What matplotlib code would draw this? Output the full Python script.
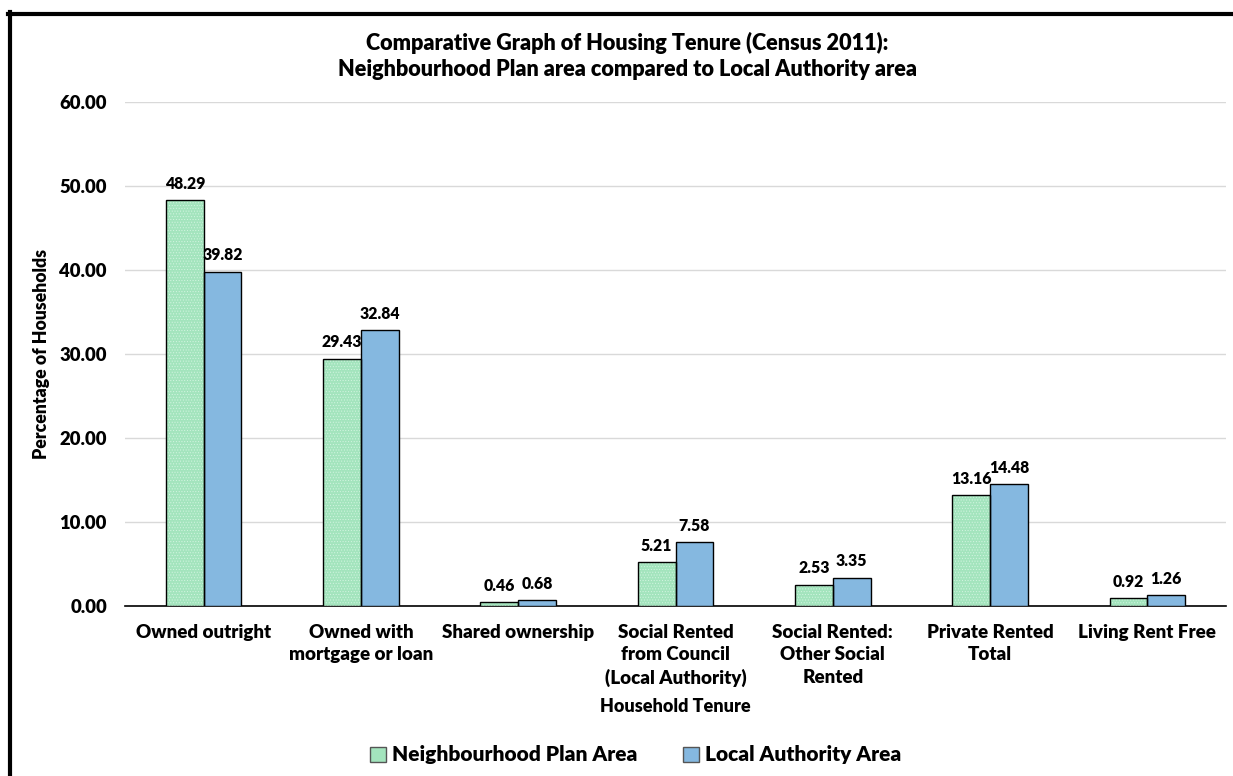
import matplotlib
matplotlib.use("Agg")
import matplotlib.pyplot as plt
import numpy as np
from matplotlib.lines import Line2D
from matplotlib.patches import Patch

categories = ["Owned outright", "Owned with\nmortgage or loan", "Shared ownership",
              "Social Rented\nfrom Council\n(Local Authority)", "Social Rented:\nOther Social\nRented",
              "Private Rented\nTotal", "Living Rent Free"]
neighbourhood = [48.29, 29.43, 0.46, 5.21, 2.53, 13.16, 0.92]
local_authority = [39.82, 32.84, 0.68, 7.58, 3.35, 14.48, 1.26]
yticks = [0, 10, 20, 30, 40, 50, 60]

plt.rcParams['font.family'] = ['Lato', 'DejaVu Sans']
plt.rcParams['hatch.color'] = '#d4f5e2'
plt.rcParams['hatch.linewidth'] = 0.4
WT = 'heavy'

W, H = 1233, 776
fig = plt.figure(figsize=(W/100, H/100), dpi=100)
ax = fig.add_axes([125/W, 1-606/H, (1226-125)/W, (606-102)/H])

x = np.arange(len(categories))
bw = 0.24
green = '#a3e4bd'
blue = '#85b8e0'
ax.bar(x - bw/2, neighbourhood, bw, color=green, edgecolor='#d4f5e2', linewidth=0,
       hatch='......', zorder=3)
ax.bar(x - bw/2, neighbourhood, bw, color='none', edgecolor='black', linewidth=1.0, zorder=4)
ax.bar(x + bw/2, local_authority, bw, color=blue, edgecolor='black', linewidth=1.0, zorder=3)

for xi, v in zip(x, neighbourhood):
    ax.text(xi - bw/2, v + 1.0, f"{v:.2f}", ha='center', va='bottom', fontsize=11.3, fontweight=WT)
for xi, v in zip(x, local_authority):
    ax.text(xi + bw/2, v + 1.0, f"{v:.2f}", ha='center', va='bottom', fontsize=11.3, fontweight=WT)

ax.set_xlim(-0.5, len(categories) - 0.5)
ax.set_ylim(0, 60)
ax.set_yticks(yticks)
ax.set_yticklabels([f"{t:.2f}" for t in yticks], fontsize=13.3, fontweight=WT)
ax.set_xticks(x)
ax.set_xticklabels(categories, fontsize=13.5, fontweight=WT, linespacing=1.38)
ax.tick_params(axis='both', length=0)
ax.tick_params(axis='x', pad=13)
ax.tick_params(axis='y', pad=13)
ax.grid(axis='y', color='#d9d9d9', linewidth=1, zorder=0)
for s in ['top', 'right', 'left']:
    ax.spines[s].set_visible(False)
ax.spines['bottom'].set_color('black')
ax.spines['bottom'].set_linewidth(1.2)

fig.text(42/W, 1 - 354/H, "Percentage of Households", rotation=90, ha='center', va='center',
         fontsize=12.7, fontweight=WT)
fig.text(675/W, 1 - 707/H, "Household Tenure", ha='center', va='center',
         fontsize=13, fontweight=WT)
fig.text(627/W, 1 - 56/H,
         "Comparative Graph of Housing Tenure (Census 2011):\nNeighbourhood Plan area compared to Local Authority area",
         ha='center', va='center', fontsize=15.6, fontweight=WT, linespacing=1.3)

handles = [Patch(facecolor=green, edgecolor='#555555', label='Neighbourhood Plan Area'),
           Patch(facecolor=blue, edgecolor='#555555', label='Local Authority Area')]
fig.legend(handles=handles, loc='center', bbox_to_anchor=(636/W, 1 - 755/H),
           ncol=2, frameon=False, prop={'size': 15, 'weight': WT},
           handlelength=0.75, handleheight=0.75, handletextpad=0.3, columnspacing=2.2)

# figure border
fig.add_artist(Line2D([9.5/W, 9.5/W], [0, 1 - 12/H], color='black', linewidth=3, transform=fig.transFigure))
fig.add_artist(Line2D([8/W, 1], [1 - 13.5/H, 1 - 13.5/H], color='black', linewidth=3, transform=fig.transFigure))

fig.savefig("out.png", dpi=100)
